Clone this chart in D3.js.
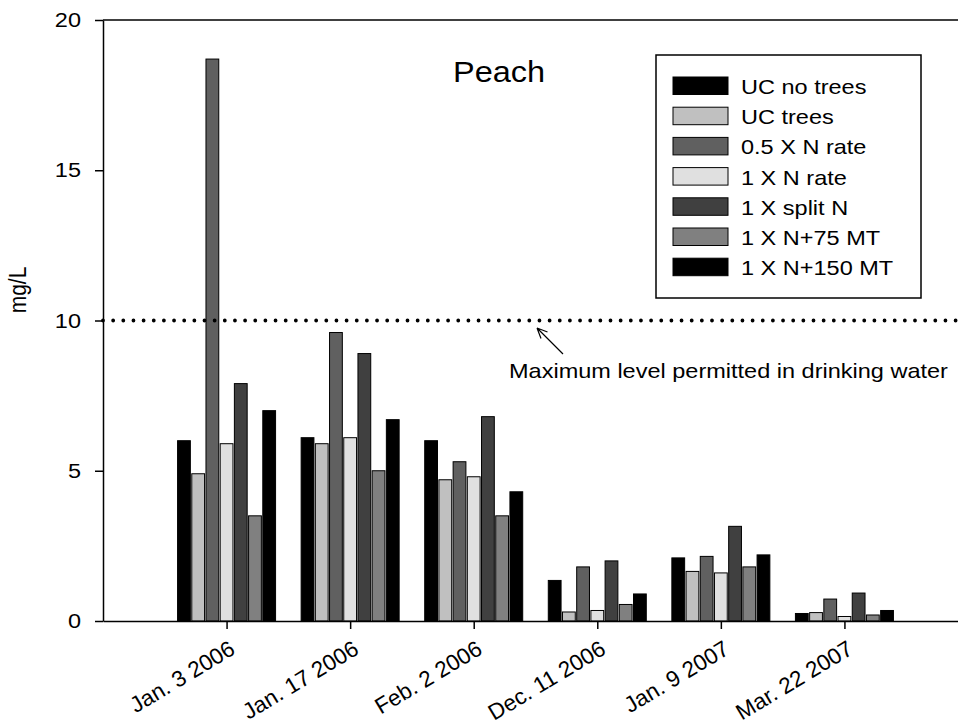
<!DOCTYPE html>
<html>
<head>
<meta charset="utf-8">
<script src="https://cdn.jsdelivr.net/npm/d3@7"></script>
<style>
  body { margin: 0; background: #fff; }
  text { font-family: "Liberation Sans", Arial, sans-serif; fill: #000; }
</style>
</head>
<body>
<svg id="chart" width="958" height="728"></svg>
<script>
// sampling dates (x categories)
var dates = ["Jan. 3 2006", "Jan. 17 2006", "Feb. 2 2006", "Dec. 11 2006", "Jan. 9 2007", "Mar. 22 2007"];
var series = ["UC no trees", "UC trees", "0.5 X N rate", "1 X N rate", "1 X split N", "1 X N+75 MT", "1 X N+150 MT"];
var fills = ["#000000", "#c0c0c0", "#606060", "#e0e0e0", "#404040", "#808080", "#000000"];

// nitrate values, mg/L, one array per series (same order as dates)
var ucNoTrees = [6.0, 6.1, 6.0, 1.35, 2.1, 0.25];
var ucTrees   = [4.9, 5.9, 4.7, 0.3, 1.65, 0.28];
var halfN     = [18.7, 9.6, 5.3, 1.8, 2.15, 0.73];
var oneN      = [5.9, 6.1, 4.8, 0.35, 1.6, 0.15];
var splitN    = [7.9, 8.9, 6.8, 2.0, 3.15, 0.93];
var n75MT     = [3.5, 5.0, 3.5, 0.55, 1.8, 0.2];
var n150MT    = [7.0, 6.7, 4.3, 0.9, 2.2, 0.35];
var values = [ucNoTrees, ucTrees, halfN, oneN, splitN, n75MT, n150MT];

var yTicks = [0, 5, 10, 15, 20];
var limit = 10;   // drinking water limit

var sx = 1.12;    // text in the picture looks a bit wider than normal

var svg = d3.select("#chart");

var x = d3.scalePoint().domain(dates).range([103, 968]).padding(1);
var xInner = d3.scaleBand().domain(series).range([-49, 49]).paddingInner(0.1);
var y = d3.scaleLinear().domain([0, 20]).range([621, 20]);

// bars
var rows = [];
dates.forEach(function(d, i) {
    series.forEach(function(s, j) {
        rows.push({date: d, s: s, v: values[j][i], c: fills[j]});
    });
});

svg.append("g").selectAll("rect")
    .data(rows)
    .enter()
    .append("rect")
    .attr("x", function(d) { return x(d.date) + xInner(d.s); })
    .attr("y", function(d) { return y(d.v); })
    .attr("width", xInner.bandwidth())
    .attr("height", function(d) { return y(0) - y(d.v); })
    .attr("fill", function(d) { return d.c; })
    .attr("stroke", "#000")
    .attr("stroke-width", 1);

// dotted limit line
svg.append("line")
    .attr("x1", 103).attr("x2", 958)
    .attr("y1", y(limit)).attr("y2", y(limit))
    .attr("stroke", "#000")
    .attr("stroke-width", 3.8)
    .attr("stroke-linecap", "round")
    .attr("stroke-dasharray", "0 10.15");

// axes
var xAxis = d3.axisBottom(x).tickSize(8).tickSizeOuter(0).tickFormat("");
svg.append("g")
    .attr("transform", "translate(0," + y(0) + ")")
    .call(xAxis)
    .call(function(g) {
        g.selectAll("path, line").attr("stroke", "#000").attr("stroke-width", 1.5);
    });

// top frame line
svg.append("line")
    .attr("x1", 103).attr("x2", 958)
    .attr("y1", y(20)).attr("y2", y(20))
    .attr("stroke", "#000").attr("stroke-width", 1.5);

svg.append("g").selectAll("text")
    .data(dates)
    .enter()
    .append("text")
    .attr("transform", function(d) {
        return "translate(" + (x(d) + 10) + ",653) rotate(-31)";
    })
    .attr("text-anchor", "end")
    .style("font-size", "22.5px")
    .text(function(d) { return d; });

var yAxis = d3.axisLeft(y).tickValues(yTicks).tickSize(8).tickSizeOuter(0).tickPadding(0);
svg.append("g")
    .attr("transform", "translate(103,0)")
    .call(yAxis)
    .call(function(g) {
        g.selectAll("path, line").attr("stroke", "#000").attr("stroke-width", 1.5);
        g.selectAll("text")
            .attr("x", null)
            .attr("transform", "translate(-22,0) scale(" + sx + ",1)")
            .style("font-size", "21px")
            .attr("font-family", null);
    });

svg.append("text")
    .attr("transform", "translate(26,290) scale(" + sx + ",1) rotate(-90)")
    .attr("text-anchor", "middle")
    .style("font-size", "21px")
    .text("mg/L");

// title
svg.append("text")
    .attr("transform", "translate(453,82) scale(" + sx + ",1)")
    .style("font-size", "29px")
    .text("Peach");

// annotation
svg.append("text")
    .attr("transform", "translate(509,378) scale(" + sx + ",1)")
    .style("font-size", "21px")
    .text("Maximum level permitted in drinking water");

var arrow = d3.path();
arrow.moveTo(563, 354); arrow.lineTo(537, 328);
arrow.moveTo(537, 328); arrow.lineTo(547.5, 332);
arrow.moveTo(537, 328); arrow.lineTo(541, 338.5);
svg.append("path")
    .attr("d", arrow.toString())
    .attr("fill", "none")
    .attr("stroke", "#000")
    .attr("stroke-width", 1.2);

// legend
var legend = svg.append("g").attr("transform", "translate(656,55)");
legend.append("rect")
    .attr("width", 265).attr("height", 243)
    .attr("fill", "#fff").attr("stroke", "#000").attr("stroke-width", 1.5);

var item = legend.selectAll("g.item")
    .data(series)
    .enter()
    .append("g")
    .attr("class", "item")
    .attr("transform", function(d, i) { return "translate(17," + (22 + i * 30.2) + ")"; });

item.append("rect")
    .attr("width", 55).attr("height", 17.5)
    .attr("fill", function(d, i) { return fills[i]; })
    .attr("stroke", "#000").attr("stroke-width", 1);

item.append("text")
    .attr("transform", "translate(68,17) scale(" + sx + ",1)")
    .style("font-size", "21px")
    .text(function(d) { return d; });
</script>
</body>
</html>
